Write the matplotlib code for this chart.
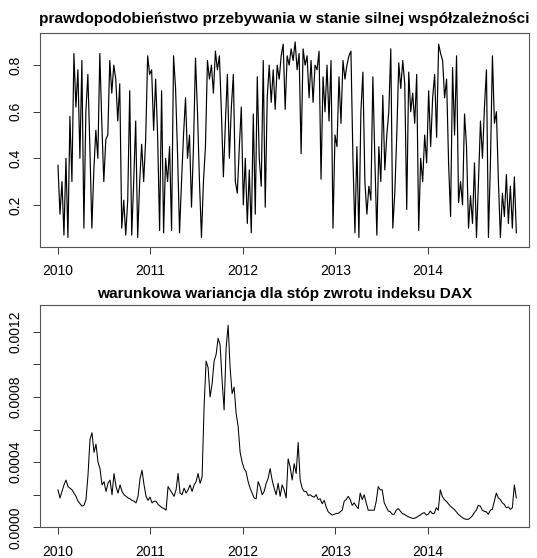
import numpy as np
import pandas as pd
import matplotlib
matplotlib.use("Agg")
import matplotlib.pyplot as plt

plt.rcParams["font.family"] = ["Liberation Sans", "DejaVu Sans"]

# smoothed probability of the strong-dependence regime
prob_strong = [
    0.37, 0.16, 0.30, 0.07, 0.40,
    0.06, 0.58, 0.30, 0.85, 0.62,
    0.78, 0.40, 0.82, 0.10, 0.60,
    0.76, 0.45, 0.10, 0.35, 0.52,
    0.40, 0.85, 0.55, 0.30, 0.48,
    0.50, 0.82, 0.68, 0.80, 0.74,
    0.56, 0.72, 0.10, 0.22, 0.07,
    0.22, 0.69, 0.07, 0.30, 0.56,
    0.06, 0.30, 0.46, 0.30, 0.48,
    0.84, 0.76, 0.78, 0.52, 0.74,
    0.50, 0.09, 0.69, 0.08, 0.40,
    0.30, 0.45, 0.09, 0.84, 0.70,
    0.42, 0.08, 0.30, 0.50, 0.66,
    0.40, 0.50, 0.19, 0.45, 0.83,
    0.60, 0.30, 0.06, 0.30, 0.45,
    0.82, 0.74, 0.80, 0.68, 0.86,
    0.78, 0.84, 0.60, 0.32, 0.55,
    0.76, 0.40, 0.62, 0.76, 0.30,
    0.25, 0.45, 0.62, 0.20, 0.40,
    0.12, 0.35, 0.08, 0.59, 0.16,
    0.75, 0.40, 0.28, 0.82, 0.19,
    0.66, 0.80, 0.64, 0.78, 0.61,
    0.80, 0.74, 0.84, 0.89, 0.61,
    0.84, 0.80, 0.87, 0.82, 0.90,
    0.78, 0.85, 0.42, 0.87, 0.80,
    0.84, 0.66, 0.82, 0.64, 0.80,
    0.78, 0.86, 0.31, 0.75, 0.60,
    0.80, 0.56, 0.82, 0.10, 0.50,
    0.45, 0.75, 0.55, 0.82, 0.74,
    0.80, 0.84, 0.86, 0.40, 0.08,
    0.45, 0.06, 0.60, 0.77, 0.30,
    0.16, 0.28, 0.22, 0.75, 0.40,
    0.07, 0.45, 0.30, 0.67, 0.35,
    0.50, 0.60, 0.87, 0.10, 0.25,
    0.50, 0.81, 0.70, 0.82, 0.72,
    0.18, 0.77, 0.60, 0.68, 0.55,
    0.76, 0.09, 0.40, 0.30, 0.50,
    0.38, 0.69, 0.45, 0.66, 0.76,
    0.49, 0.89, 0.85, 0.82, 0.66,
    0.74, 0.38, 0.15, 0.79, 0.50,
    0.84, 0.21, 0.30, 0.20, 0.59,
    0.45, 0.10, 0.24, 0.12, 0.38,
    0.06, 0.30, 0.56, 0.40, 0.62,
    0.78, 0.06, 0.38, 0.84, 0.55,
    0.60, 0.30, 0.06, 0.25, 0.15,
    0.33, 0.12, 0.28, 0.10, 0.32, 0.08,
]

# conditional variance of DAX returns, in units of 1e-4
dax_var_e4 = [
    2.3, 1.8, 2.2, 2.6, 2.9, 2.5, 2.4, 2.3, 2.1, 1.9,
    1.6, 1.45, 1.3, 1.35, 1.7, 3.2, 5.4, 5.8, 4.6, 5.1,
    4.0, 3.6, 2.6, 2.8, 2.2, 2.7, 2.9, 2.0, 3.3, 2.5,
    2.1, 2.6, 2.2, 2.0, 1.9, 1.8, 1.75, 1.65, 1.6, 1.5,
    1.9, 3.0, 3.5, 2.6, 1.9, 1.65, 1.85, 1.5, 1.6, 1.6,
    1.4, 1.3, 1.2, 1.15, 1.05, 2.5, 2.3, 2.1, 1.9, 2.3,
    3.3, 2.1, 2.0, 2.4, 2.1, 2.3, 2.6, 2.2, 2.6, 2.8,
    3.3, 2.7, 3.1, 7.4, 10.2, 9.8, 8.0, 8.8, 10.2, 10.6,
    11.6, 11.2, 9.0, 7.2, 11.0, 12.4, 9.8, 8.2, 8.6, 7.0,
    6.2, 4.6, 4.0, 3.6, 3.4, 2.8, 2.4, 2.1, 1.8, 1.75,
    2.8, 2.5, 2.0, 2.2, 2.7, 3.0, 3.6, 2.9, 2.4, 2.0,
    2.7, 1.9, 2.6, 2.3, 1.8, 4.2, 3.7, 2.9, 3.9, 3.3,
    5.2, 2.9, 2.4, 2.2, 2.2, 1.95, 2.0, 1.9, 1.85, 2.0,
    1.7, 1.75, 1.45, 1.65, 1.25, 0.95, 0.85, 0.75, 0.8, 0.85,
    0.85, 0.95, 1.05, 1.6, 1.7, 1.9, 1.7, 1.35, 1.5, 1.3,
    1.15, 2.1, 1.7, 2.0, 1.5, 1.05, 1.05, 1.05, 1.05, 1.6,
    2.5, 2.3, 2.3, 1.5, 1.25, 1.0, 0.95, 0.8, 0.8, 1.05,
    1.15, 1.0, 0.85, 0.8, 0.72, 0.65, 0.6, 0.55, 0.55, 0.6,
    0.68, 0.75, 0.85, 0.9, 0.75, 0.8, 1.0, 0.85, 0.85, 1.2,
    1.05, 2.3, 1.9, 1.7, 1.6, 1.45, 1.3, 1.2, 1.1, 0.95,
    0.8, 0.7, 0.6, 0.52, 0.49, 0.49, 0.58, 0.7, 0.9, 1.05,
    1.35, 1.3, 1.05, 0.98, 0.95, 0.8, 1.05, 1.1, 1.6, 2.1,
    1.8, 1.7, 1.5, 1.4, 1.2, 1.25, 1.1, 1.2, 2.6, 1.8,
]

START, END = "2010-01-01", "2014-12-17"
years = [2010, 2011, 2012, 2013, 2014]
title_top = "prawdopodobieństwo przebywania w stanie silnej współzależności"
title_bottom = "warunkowa wariancja dla stóp zwrotu indeksu DAX"

dates_top = pd.date_range(START, END, periods=len(prob_strong))
dates_bot = pd.date_range(START, END, periods=len(dax_var_e4))
dax_var = np.array(dax_var_e4) * 1e-4

W, H = 537, 558
fig = plt.figure(figsize=(W / 100, H / 100), dpi=100)
ax1 = fig.add_axes([40 / W, 1 - 247 / H, 489 / W, 214 / H])
ax2 = fig.add_axes([40 / W, 1 - 527.3 / H, 489 / W, 222.3 / H])

ax1.plot(dates_top, prob_strong, color="black", lw=0.85)
ax2.plot(dates_bot, dax_var, color="black", lw=0.75)

ax1.set_ylim(0.019, 0.938)
ax1.set_yticks([0.2, 0.4, 0.6, 0.8], ["0.2", "0.4", "0.6", "0.8"])
ax2.set_ylim(0.0, 0.001364)
ax2.set_yticks([0, 0.0002, 0.0004, 0.0006, 0.0008, 0.0010, 0.0012],
               ["0.0000", "", "0.0004", "", "0.0008", "", "0.0012"])

for ax, title, pad in ((ax1, title_top, 7), (ax2, title_bottom, 5)):
    ax.set_xlim(pd.Timestamp("2009-10-22"), pd.Timestamp("2015-02-05"))
    ax.set_xticks([pd.Timestamp(f"{y}-01-01") for y in years], [str(y) for y in years])
    ax.tick_params(length=5, width=0.7, pad=7.5, labelsize=10, color="#333333")
    ax.tick_params(axis="y", labelrotation=90)
    for lab in ax.get_yticklabels():
        lab.set_va("center")
    for s in ax.spines.values():
        s.set_linewidth(0.8)
        s.set_color("#555555")
    ax.set_title(title, fontsize=11.1, fontweight="bold", pad=pad)

fig.savefig("out.png", dpi=100, facecolor="white")
